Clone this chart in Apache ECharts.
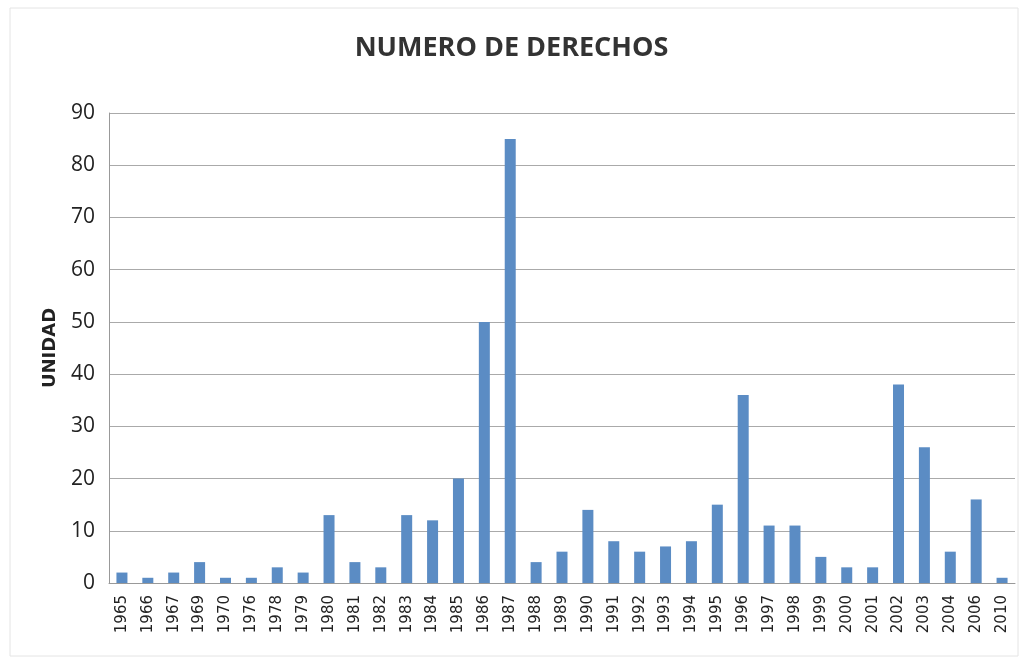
<!DOCTYPE html>
<html>
<head>
<meta charset="utf-8">
<script src="https://cdn.jsdelivr.net/npm/echarts@6/dist/echarts.min.js"></script>
<style>
  html, body { margin: 0; padding: 0; background: #fff; }
  #chart { width: 1023px; height: 662px; }
</style>
</head>
<body>
<div id="chart"></div>
<script>
var years = ['1965','1966','1967','1969','1970','1976','1978','1979','1980','1981','1982','1983','1984','1985','1986','1987','1988','1989','1990','1991','1992','1993','1994','1995','1996','1997','1998','1999','2000','2001','2002','2003','2004','2006','2010'];
var derechos = [2,1,2,4,1,1,3,2,13,4,3,13,12,20,50,85,4,6,14,8,6,7,8,15,36,11,11,5,3,3,38,26,6,16,1];

var chart = echarts.init(document.getElementById('chart'));
var option = {
    backgroundColor: '#fff',
    animation: false,
    title: {
        text: 'NUMERO DE DERECHOS',
        left: 'center',
        top: 30,
        textStyle: {
            fontFamily: 'Open Sans',
            fontWeight: 'bold',
            fontSize: 27,
            color: '#333'
        }
    },
    graphic: [{
        type: 'rect',
        shape: { x: 10, y: 8, width: 1008, height: 648 },
        style: { fill: 'none', stroke: '#e4e4e4', lineWidth: 1 }
    }],
    grid: {
        left: 109,
        right: 8,
        top: 113,
        bottom: 79
    },
    xAxis: {
        type: 'category',
        data: years,
        axisTick: { show: false },
        axisLine: { lineStyle: { color: '#999' } },
        axisLabel: {
            rotate: 90,
            interval: 0,
            fontFamily: 'DejaVu Sans',
            fontSize: 15,
            color: '#222',
            margin: 12
        }
    },
    yAxis: {
        type: 'value',
        min: 0,
        max: 90,
        interval: 10,
        name: 'UNIDAD',
        nameLocation: 'middle',
        nameRotate: 90,
        nameGap: 50,
        nameTextStyle: {
            fontFamily: 'DejaVu Sans',
            fontWeight: 'bold',
            fontSize: 18,
            color: '#222'
        },
        axisLine: { show: true, lineStyle: { color: '#999' } },
        axisTick: { show: false },
        splitLine: { lineStyle: { color: '#aaa' } },
        axisLabel: {
            fontFamily: 'Open Sans',
            fontSize: 21,
            color: '#222',
            margin: 14
        }
    },
    series: [{
        name: 'Derechos',
        type: 'bar',
        data: derechos,
        barWidth: 11,
        itemStyle: { color: '#5b8cc4' }
    }]
};
chart.setOption(option);
window.onresize = chart.resize;
</script>
</body>
</html>
